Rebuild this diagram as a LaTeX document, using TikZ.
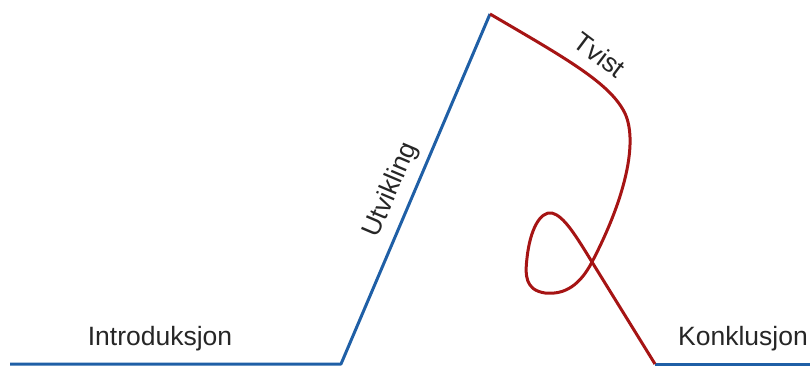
\documentclass[tikz,border=0pt]{standalone}
\usepackage{fontspec}
\setmainfont{Liberation Sans}
\definecolor{plotblue}{HTML}{1F5FA6}
\definecolor{plotred}{HTML}{A61414}
\begin{document}
\begin{tikzpicture}[x=1pt,y=-1pt,
  arc/.style={line width=3pt,line join=round,line cap=butt},
  lbl/.style={font=\fontsize{26.5}{30}\selectfont,text=black!85,inner sep=0pt}]
\useasboundingbox (0,0) rectangle (810,366);
\coordinate (a) at (10,364);
\coordinate (b) at (341,364);
\coordinate (c) at (490,14);
\coordinate (x) at (592,262);
\coordinate (d) at (655,364);
\coordinate (e) at (812,364);
\draw[arc,plotblue] (a) -- (b) -- (c);
\draw[arc,plotblue] (d) -- (e);
\draw[arc,plotred] (c) .. controls (560,55) and (605,80) .. (622,108)
  .. controls (640,135) and (627,195) .. (x)
  .. controls (580,285) and (565,295) .. (545,293)
  .. controls (525,290) and (525,275) .. (527,258)
  .. controls (530,230) and (540,211) .. (552,213)
  .. controls (564,216) and (576,236) .. (x) -- (d);
\node[lbl] (intro) at (160,339) {Introduksjon};
\node[lbl] (konk) at (743,339) {Konklusjon};
\node[lbl,rotate=67] (utv) at (391,190) {Utvikling};
\node[lbl,rotate=-37] (tv) at (600,55) {Tvist};
\end{tikzpicture}
\end{document}
